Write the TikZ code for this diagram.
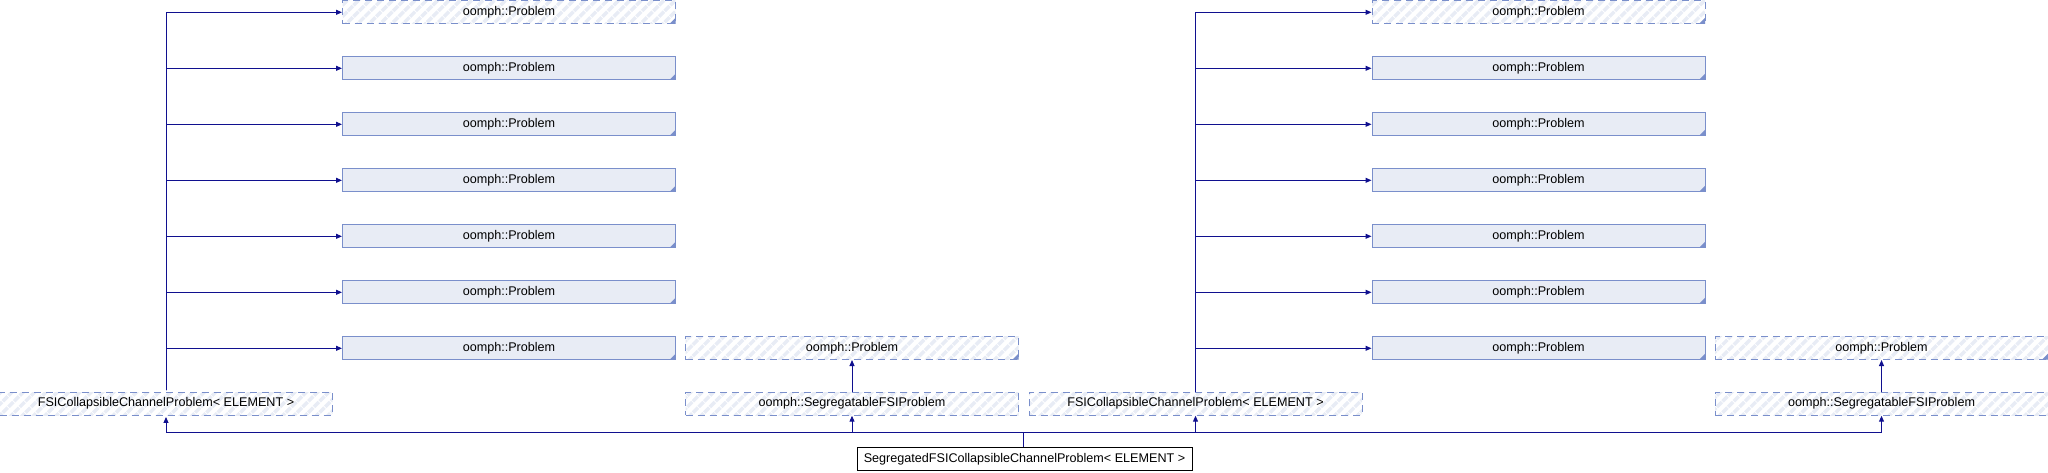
\documentclass[tikz,border=0pt]{standalone}
\usepackage{fontspec}
\setmainfont{Liberation Sans}
\usetikzlibrary{arrows.meta,patterns.meta}
\definecolor{edgeblue}{HTML}{10108F}
\definecolor{boxline}{HTML}{7A8FCB}
\definecolor{boxfill}{HTML}{E8ECF5}
\tikzset{
  cls/.style={draw=boxline, fill=boxfill, line width=1pt, minimum width=333pt, minimum height=23pt, inner sep=0pt, font=\fontsize{12.6}{14}\selectfont},
  ext/.style={cls, fill=none, dash pattern=on 7pt off 5pt, pattern={Lines[angle=45,distance=8pt,line width=3.5pt]}, pattern color=boxfill},
  trunc/.style={path picture={\fill[boxline] (path picture bounding box.south east) -- ++(-6pt,0pt) -- ++(6pt,6pt) -- cycle;}},
  focus/.style={cls, fill=white, draw=black, minimum width=335pt},
  inh/.style={color=edgeblue, line width=1pt, -{Triangle[length=6pt,width=5pt]}}
}
\begin{document}
\begin{tikzpicture}[x=1pt,y=-1pt]
\useasboundingbox (0,0) rectangle (2048,472);
\node[focus] (main) at (1024.5,459) {SegregatedFSICollapsibleChannelProblem< ELEMENT >};
\node[ext] (fsi-l) at (166,403.7) {FSICollapsibleChannelProblem< ELEMENT >};
\node[ext] (seg-m) at (852,403.7) {oomph::SegregatableFSIProblem};
\node[ext] (fsi-r) at (1195.5,403.7) {FSICollapsibleChannelProblem< ELEMENT >};
\node[ext] (seg-r) at (1881.5,403.7) {oomph::SegregatableFSIProblem};
\node[ext,trunc] (pb-m) at (852,348) {oomph::Problem};
\node[ext,trunc] (pb-r) at (1881.5,348) {oomph::Problem};
\node[ext,trunc] (pl-1) at (509,12.3) {oomph::Problem};
\node[ext,trunc] (pr-1) at (1538.5,12.3) {oomph::Problem};
\foreach \i in {2,...,7}{
  \node[cls,trunc] (pl-\i) at (509,12.3+56*\i-56) {oomph::Problem};
  \node[cls,trunc] (pr-\i) at (1538.5,12.3+56*\i-56) {oomph::Problem};
}
\coordinate (bus) at (1023,432);
\draw[edgeblue, line width=1pt] (main.north -| bus) -- (bus);
\path[inh]
  (bus) edge[to path={-| (\tikztotarget)}] (fsi-l)
  (bus) edge[to path={-| (\tikztotarget)}] (seg-m)
  (bus) edge[to path={-| (\tikztotarget)}] (fsi-r)
  (bus) edge[to path={-| (\tikztotarget)}] (seg-r)
  (seg-m) edge (pb-m)
  (seg-r) edge (pb-r)
  \foreach \i in {1,...,7}{
    (fsi-l) edge[to path={|- (\tikztotarget)}] (pl-\i)
    (fsi-r) edge[to path={|- (\tikztotarget)}] (pr-\i)
  };
\end{tikzpicture}
\end{document}
